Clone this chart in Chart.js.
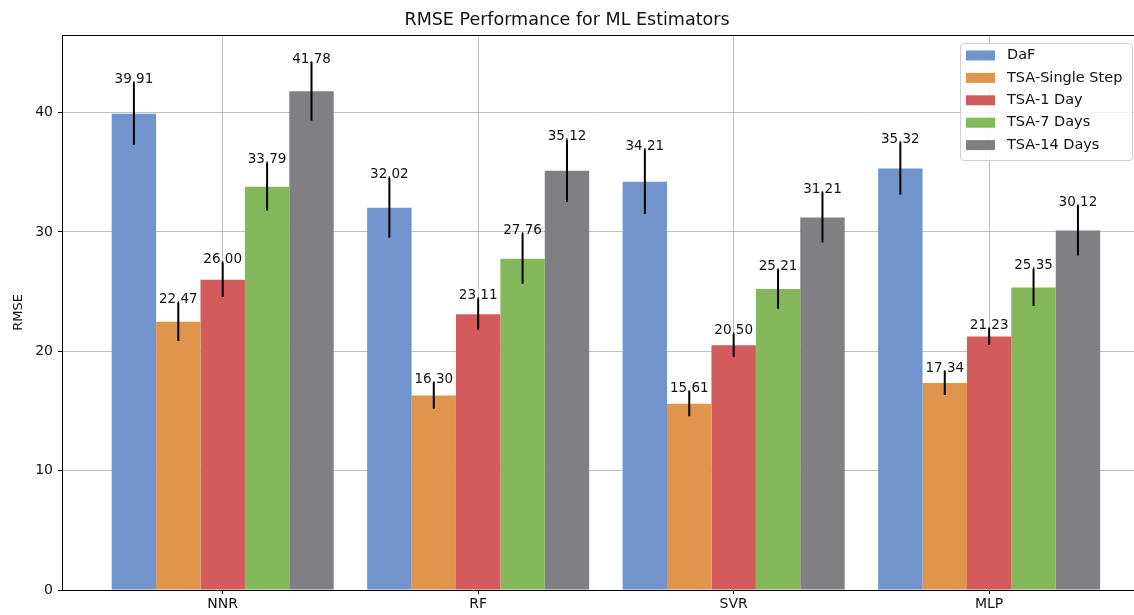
<!DOCTYPE html>
<html>
<head>
<meta charset="utf-8">
<script src="https://cdn.jsdelivr.net/npm/chart.js@4"></script>
<style>
  html, body { margin: 0; padding: 0; background: #fff; }
  #wrap { width: 1134px; height: 615px; }
</style>
</head>
<body>
<div id="wrap"><canvas id="rmse"></canvas></div>
<script>
// categorias (estimadores)
const estimadores = ['NNR', 'RF', 'SVR', 'MLP'];
// series
const series = ['DaF', 'TSA-Single Step', 'TSA-1 Day', 'TSA-7 Days', 'TSA-14 Days'];
const colores = ['#7194cc', '#e0954c', '#d35b5b', '#84b85b', '#807f84'];

// valores RMSE por serie
const daf = [39.91, 32.02, 34.21, 35.32];
const tsaSingle = [22.47, 16.30, 15.61, 17.34];
const tsa1Day = [26.00, 23.11, 20.50, 21.23];
const tsa7Days = [33.79, 27.76, 25.21, 25.35];
const tsa14Days = [41.78, 35.12, 31.21, 30.12];

// desviación (barras de error)
const errDaf = [2.6, 2.5, 2.7, 2.2];
const errSingle = [1.6, 1.1, 1.05, 1.0];
const errDay1 = [1.45, 1.3, 0.97, 0.7];
const errDays7 = [2.0, 2.1, 1.65, 1.55];
const errDays14 = [2.45, 2.6, 2.1, 2.1];

const yTicks = [0, 10, 20, 30, 40];

const valores = [daf, tsaSingle, tsa1Day, tsa7Days, tsa14Days];
const errores = [errDaf, errSingle, errDay1, errDays7, errDays14];

const FONT = 'DejaVu Sans';

/**
 * Plugin para dibujar barras de error, etiquetas de valor, marco y leyenda
 */
const extras = {
    id: 'extras',
    afterDatasetsDraw(chart) {
        const ctx = chart.ctx;
        const y = chart.scales.y;
        ctx.save();
        chart.data.datasets.forEach((ds, i) => {
            const meta = chart.getDatasetMeta(i);
            meta.data.forEach((bar, j) => {
                const v = ds.data[j].y;
                const e = errores[i][j];
                const top = y.getPixelForValue(v + e);
                const bottom = y.getPixelForValue(v - e);
                // barra de error
                ctx.strokeStyle = '#000';
                ctx.lineWidth = 2;
                ctx.beginPath();
                ctx.moveTo(bar.x, top);
                ctx.lineTo(bar.x, bottom);
                ctx.stroke();
            });
        });
        ctx.restore();
    },
    afterDraw(chart) {
        const ctx = chart.ctx;
        const a = chart.chartArea;
        const y = chart.scales.y;
        ctx.save();
        // etiquetas de valor
        ctx.font = '13.5px ' + FONT;
        ctx.fillStyle = '#111';
        ctx.textAlign = 'center';
        ctx.textBaseline = 'middle';
        chart.data.datasets.forEach((ds, i) => {
            const meta = chart.getDatasetMeta(i);
            meta.data.forEach((bar, j) => {
                const v = ds.data[j].y;
                const top = y.getPixelForValue(v + errores[i][j]);
                ctx.fillText(v.toFixed(2), bar.x, top - 3);
            });
        });
        // marco superior
        ctx.strokeStyle = '#000';
        ctx.lineWidth = 1;
        ctx.beginPath();
        ctx.moveTo(a.left, a.top + 0.5);
        ctx.lineTo(a.right, a.top + 0.5);
        ctx.stroke();
        // leyenda
        const lx = 960, ly = 43, lw = 172, lh = 117;
        ctx.fillStyle = 'rgba(255,255,255,0.85)';
        ctx.strokeStyle = '#d0d0d0';
        ctx.beginPath();
        ctx.roundRect(lx + 0.5, ly + 0.5, lw, lh, 3);
        ctx.fill();
        ctx.stroke();
        ctx.textAlign = 'left';
        ctx.font = '14.5px ' + FONT;
        chart.data.datasets.forEach((ds, i) => {
            const cy = 55.5 + i * 22.4;
            ctx.fillStyle = ds.backgroundColor;
            ctx.fillRect(966, cy - 5, 29, 10);
            ctx.fillStyle = '#111';
            ctx.fillText(ds.label, 1007, cy);
        });
        ctx.restore();
    }
};

const element = document.getElementById('rmse').getContext('2d');
const graph = new Chart(element, {
    type: 'bar',
    data: {
        datasets: series.map((s, i) => ({
            label: s,
            data: valores[i].map((v, j) => ({ x: j, y: v })),
            backgroundColor: colores[i],
            borderWidth: 0,
            categoryPercentage: 0.869,
            barPercentage: 1
        }))
    },
    options: {
        responsive: true,
        maintainAspectRatio: false,
        animation: false,
        layout: { padding: { left: 0, right: 0, top: 0, bottom: 0 } },
        plugins: {
            legend: { display: false },
            tooltip: { enabled: false },
            title: {
                display: true,
                text: 'RMSE Performance for ML Estimators',
                color: '#111',
                font: { family: FONT, size: 17.5, weight: 'normal' },
                padding: { top: 10, bottom: 4 }
            }
        },
        scales: {
            x: {
                type: 'linear',
                offset: false,
                min: -0.629,
                max: 3.567,
                z: 1,
                afterBuildTicks: (scale) => {
                    scale.ticks = estimadores.map((c, i) => ({ value: i }));
                },
                afterFit: (scale) => { scale.height = 25; },
                ticks: {
                    callback: (v) => estimadores[v],
                    color: '#111',
                    font: { family: FONT, size: 14 },
                    padding: 2,
                    maxRotation: 0,
                    autoSkip: false
                },
                grid: {
                    offset: false,
                    color: 'rgba(176,176,176,0.8)',
                    tickColor: '#000',
                    tickLength: 4,
                    lineWidth: 1
                },
                border: { color: '#000', width: 1 }
            },
            y: {
                min: 0,
                max: 46.5,
                z: 1,
                afterBuildTicks: (scale) => {
                    scale.ticks = yTicks.map(v => ({ value: v }));
                },
                afterFit: (scale) => { scale.width = 62; },
                title: {
                    display: true,
                    text: 'RMSE',
                    color: '#111',
                    font: { family: FONT, size: 13 },
                    padding: { top: 11, bottom: 0 }
                },
                ticks: {
                    color: '#111',
                    font: { family: FONT, size: 14 },
                    padding: 5
                },
                grid: {
                    color: 'rgba(176,176,176,0.8)',
                    tickColor: '#000',
                    tickLength: 4,
                    lineWidth: 1
                },
                border: { color: '#000', width: 1 }
            }
        }
    },
    plugins: [extras]
});
</script>
</body>
</html>
